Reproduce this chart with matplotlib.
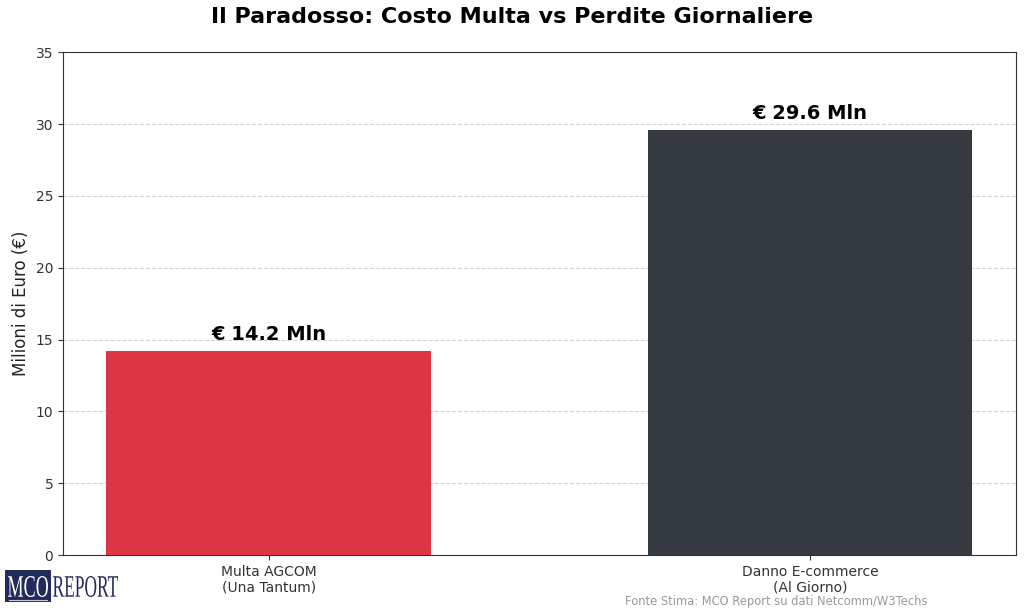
import matplotlib
matplotlib.use("Agg")
import matplotlib.pyplot as plt
from matplotlib.patches import Rectangle, PathPatch
from matplotlib.textpath import TextPath
from matplotlib.font_manager import FontProperties
from matplotlib.transforms import Affine2D

# data
categories = ["Multa AGCOM\n(Una Tantum)", "Danno E-commerce\n(Al Giorno)"]
values = [14.2, 29.6]
labels = ["€ 14.2 Mln", "€ 29.6 Mln"]
colors = ["#dc3545", "#343a40"]

fig = plt.figure(figsize=(10.24, 6.14), dpi=100)
ax = fig.add_axes([0.0615, 0.096, 0.9305, 0.819])

bars = ax.bar(categories, values, color=colors, width=0.6, zorder=2)
ax.set_ylim(0, 35)
ax.set_xlim(-0.38, 1.38)
ax.yaxis.grid(True, linestyle="--", color="#cccccc", alpha=0.9, zorder=0)
ax.set_axisbelow(True)
for s in ax.spines.values():
    s.set_color("#333333")

for b, lab in zip(bars, labels):
    ax.text(b.get_x() + b.get_width() / 2, b.get_height() + 0.5, lab,
            ha="center", va="bottom", fontsize=14, fontweight="bold")

ax.set_ylabel("Milioni di Euro (€)", fontsize=12, color="#222222")
ax.tick_params(labelsize=10, colors="#333333")
fig.suptitle("Il Paradosso: Costo Multa vs Perdite Giornaliere",
             fontsize=16, fontweight="bold", y=0.988)

# source note
fig.text(625 / 1024, 1 - 602 / 614, "Fonte Stima: MCO Report su dati Netcomm/W3Techs",
         fontsize=8.3, color="#999999", ha="left", va="center")


# logo: condensed serif text fitted into pixel boxes
def fitted_text(s, x0, y0, x1, y1, color):
    tp = TextPath((0, 0), s, size=1, prop=FontProperties(family="Liberation Serif"))
    ext = tp.get_extents()
    tr = (Affine2D().translate(-ext.x0, -ext.y0)
          .scale((x1 - x0) / 1024 / ext.width, (y1 - y0) / 614 / ext.height)
          .translate(x0 / 1024, 1 - y1 / 614))
    fig.patches.append(PathPatch(tp, transform=tr + fig.transFigure,
                                 facecolor=color, edgecolor="none"))


navy = "#232a5c"
fig.patches.append(Rectangle((5 / 1024, 1 - 602 / 614), 46 / 1024, 32 / 614,
                             transform=fig.transFigure, facecolor=navy,
                             edgecolor="none"))
fitted_text("MCO", 8, 576, 48, 597, "white")
fitted_text("REPORT", 53, 576, 118, 597, navy)
fig.lines.append(plt.Line2D([9 / 1024, 47 / 1024], [1 - 599.5 / 614] * 2,
                            transform=fig.transFigure, color="#c8c8d8", lw=0.8))

fig.savefig("out.png", dpi=100)
